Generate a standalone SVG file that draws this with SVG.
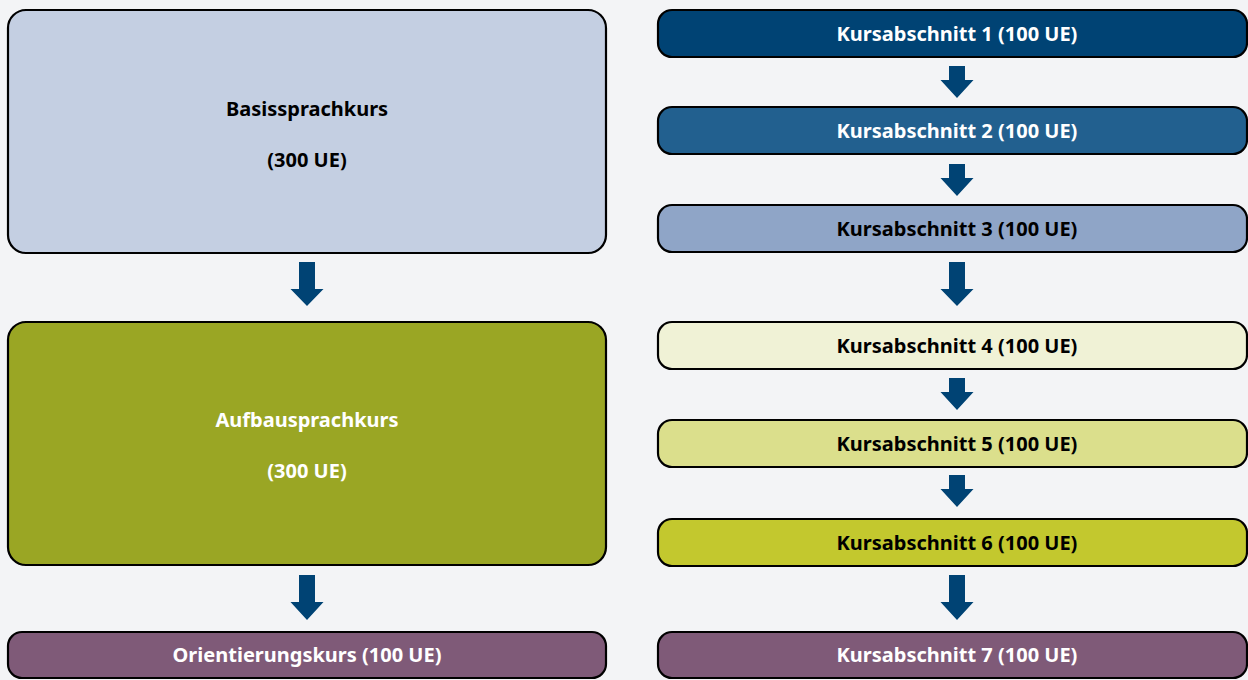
<svg xmlns="http://www.w3.org/2000/svg" width="1248" height="680" viewBox="0 0 1248 680">
<defs>
<style>
.box{stroke:#000;stroke-width:2.2}
.t{font-family:"Noto Sans","Open Sans","DejaVu Sans",sans-serif;font-weight:bold;font-size:20px;text-anchor:middle}
.dk{fill:#000}
.lt{fill:#fff}
.arr{fill:#004374}
</style>
</defs>
<rect width="1248" height="680" fill="#f3f4f6"/>
<g id="connectors">
<path class="arr" d="M299 262H315V289H323.5L307 306L290.5 289H299Z"/>
<path class="arr" d="M299 575H315V602H323.5L307 620L290.5 602H299Z"/>
<path class="arr" d="M949 66H965V80H973.5L957 98L940.5 80H949Z"/>
<path class="arr" d="M949 164H965V178H973.5L957 196L940.5 178H949Z"/>
<path class="arr" d="M949 262H965V289H973.5L957 306L940.5 289H949Z"/>
<path class="arr" d="M949 378H965V392H973.5L957 410L940.5 392H949Z"/>
<path class="arr" d="M949 475H965V489H973.5L957 507L940.5 489H949Z"/>
<path class="arr" d="M949 575H965V602H973.5L957 620L940.5 602H949Z"/>
</g>
<g id="basissprachkurs">
<rect class="box" x="8" y="10" width="598" height="243" rx="18" fill="#c4cfe2"/>
<text class="t dk" x="307" y="116">Basissprachkurs</text>
<text class="t dk" x="307" y="167">(300 UE)</text>
</g>
<g id="aufbausprachkurs">
<rect class="box" x="8" y="322" width="598" height="243" rx="18" fill="#9aa624"/>
<text class="t lt" x="307" y="427">Aufbausprachkurs</text>
<text class="t lt" x="307" y="478">(300 UE)</text>
</g>
<g id="orientierungskurs">
<rect class="box" x="8" y="632" width="598" height="46" rx="14" fill="#7f5a78"/>
<text class="t lt" x="307" y="662">Orientierungskurs (100 UE)</text>
</g>
<g id="ka1">
<rect class="box" x="658" y="10" width="589" height="47" rx="14" fill="#004374"/>
<text class="t lt" x="957" y="41">Kursabschnitt 1 (100 UE)</text>
</g>
<g id="ka2">
<rect class="box" x="658" y="107" width="589" height="47" rx="14" fill="#22608f"/>
<text class="t lt" x="957" y="138">Kursabschnitt 2 (100 UE)</text>
</g>
<g id="ka3">
<rect class="box" x="658" y="205" width="589" height="47" rx="14" fill="#8fa5c7"/>
<text class="t dk" x="957" y="236">Kursabschnitt 3 (100 UE)</text>
</g>
<g id="ka4">
<rect class="box" x="658" y="322" width="589" height="47" rx="14" fill="#f0f2d6"/>
<text class="t dk" x="957" y="353">Kursabschnitt 4 (100 UE)</text>
</g>
<g id="ka5">
<rect class="box" x="658" y="420" width="589" height="47" rx="14" fill="#dbdf8c"/>
<text class="t dk" x="957" y="451">Kursabschnitt 5 (100 UE)</text>
</g>
<g id="ka6">
<rect class="box" x="658" y="519" width="589" height="47" rx="14" fill="#c3c82e"/>
<text class="t dk" x="957" y="550">Kursabschnitt 6 (100 UE)</text>
</g>
<g id="ka7">
<rect class="box" x="658" y="632" width="589" height="46" rx="14" fill="#7f5a78"/>
<text class="t lt" x="957" y="662">Kursabschnitt 7 (100 UE)</text>
</g>
</svg>
